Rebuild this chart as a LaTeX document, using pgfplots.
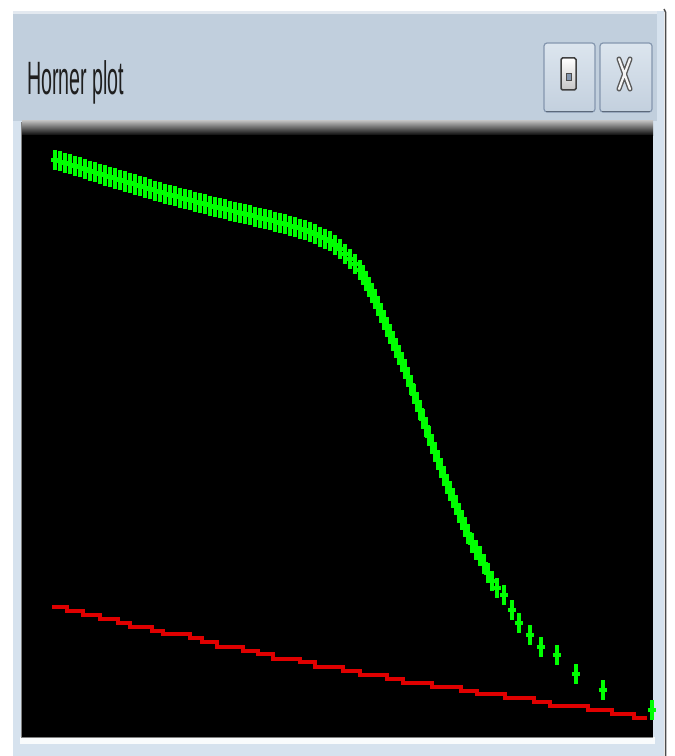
\documentclass[border=0pt]{standalone}
\usepackage{pgfplots}
\pgfplotsset{compat=1.18}
\usepackage{fontspec}
\setmainfont{Liberation Sans}
\definecolor{titlebar}{HTML}{C1CFDD}
\definecolor{framec}{HTML}{D6E2EE}
\definecolor{btnedge}{HTML}{8496AE}
\definecolor{btntop}{HTML}{DCE5EE}
\definecolor{btnbot}{HTML}{C3D0DE}
\definecolor{lime}{HTML}{00FF00}
\definecolor{redline}{HTML}{E00000}
\begin{document}
\begin{tikzpicture}
% one axis covers the whole window; coordinates are screen pixels, y downwards
\begin{axis}[
  scale only axis, width=675bp, height=756bp,
  xmin=0, xmax=675, ymin=0, ymax=756,
  y dir=reverse,
  axis lines=none, ticks=none,
]
% window chrome
\fill[white] (axis cs:0,0) rectangle (axis cs:675,756);
\fill[framec] (axis cs:13,11) rectangle (axis cs:664,756);
\fill[titlebar] (axis cs:13,11) rectangle (axis cs:657,121);
\fill[white!55!titlebar] (axis cs:13,11) rectangle (axis cs:657,14);
\draw[gray!60!black, line width=1.5bp] (axis cs:665.5,756) -- (axis cs:665.5,12) -- (axis cs:664,9);
% buttons
\shade[top color=btntop, bottom color=btnbot, draw=btnedge, line width=1.2bp, rounded corners=3bp]
  (axis cs:544,43) rectangle (axis cs:595,112);
\shade[top color=btntop, bottom color=btnbot, draw=btnedge, line width=1.2bp, rounded corners=3bp]
  (axis cs:600,43) rectangle (axis cs:652,112);
\draw[btnedge!70!black, line width=1.2bp] (axis cs:546,111.5) -- (axis cs:593,111.5);
\draw[btnedge!70!black, line width=1.2bp] (axis cs:602,111.5) -- (axis cs:650,111.5);
\shade[top color=white, bottom color=gray!45, draw=black!75, line width=1.5bp, rounded corners=1.5bp]
  (axis cs:561,58) rectangle (axis cs:576,90);
\filldraw[fill=btnedge, draw=black!70, line width=0.8bp] (axis cs:566,73) rectangle (axis cs:571,80);
\draw[black!65, line width=5bp, line cap=round]
  (axis cs:619,59) -- (axis cs:630,89) (axis cs:630,59) -- (axis cs:619,89);
\draw[white!92!gray, line width=2.2bp, line cap=round]
  (axis cs:619,59) -- (axis cs:630,89) (axis cs:630,59) -- (axis cs:619,89);
% title
\node[anchor=base west, inner sep=0pt, xscale=0.42, text=black!88]
  at (axis cs:27,95) {\fontsize{47}{47}\selectfont Horner plot};
% plot area
\shade[top color=gray!55, bottom color=black] (axis cs:22,121) rectangle (axis cs:653,136);
\fill[black] (axis cs:22,135) rectangle (axis cs:653,737);
\fill[white!85!framec] (axis cs:20,737) rectangle (axis cs:655,744);
\draw[gray, line width=1.2bp] (axis cs:21.4,122) -- (axis cs:21.4,737.6) -- (axis cs:653,737.6);

% drawdown straight-line fit
\addplot[const plot, redline, line width=3.6bp, no marks] coordinates {
  (52,607) (67,611) (83,615) (100,619) (118,623) (130,627) (152,631)
  (163,634) (190,638) (202,642) (217,647) (243,651) (258,654) (273,659)
  (300,662) (315,667) (343,671) (360,675) (387,679) (403,683) (432,687)
  (461,691) (477,694) (505,698) (534,702) (550,706) (588,710) (612,714)
  (634,718) (647,718)
};
% measured points
\addplot[only marks, mark=+, lime, mark size=10bp,
  mark options={xscale=0.42, line width=3.3bp}] coordinates {
  (55,160) (60,161.5) (65,163) (70,164.5) (75,166) (80,167.5) (85,169)
  (90,171) (95,172.5) (100,174) (105,175.5) (110,177) (115,178.5) (120,180)
  (125,181.5) (130,183) (135,184.5) (140,186) (145,187.5) (150,189)
  (155,190.5) (160,192) (165,193.5) (170,195) (175,196) (180,197.5)
  (185,199) (190,200) (195,201.5) (200,203) (205,204) (210,205.5)
  (215,207) (220,208) (225,209) (230,210.5) (235,211.5) (240,213)
  (245,214) (250,215) (255,216.5) (260,218) (265,219) (270,220)
  (275,221.5) (280,223) (285,224) (290,225.5) (295,227) (300,228.5)
  (305,230) (310,232) (315,234) (320,236.5) (325,238.5) (330,241)
  (335,245) (340,249) (345,254) (350,259) (355,264) (360,270)
  (363,275) (366,281) (369,287) (372,293) (375,299) (378,306) (381,313)
  (384,320) (387,327) (390,334) (393,341) (396,348) (399,355) (402,362)
  (405,369) (408,377) (411,385) (414,394) (417,402) (420,410) (423,419)
  (426,427) (429,436) (432,444) (435,452) (438,460) (441,468) (444,476)
  (447,484) (450,491) (453,498) (456,505) (459,513) (462,520) (465,527)
  (468,534) (472,543) (476,550) (480,556) (484,564) (488,573) (492,581)
  (497,588) (504,595) (512,610) (519,623) (530,635) (541,647) (557,655)
  (576,674) (603,690) (652,710)
};
\end{axis}
\end{tikzpicture}
\end{document}
